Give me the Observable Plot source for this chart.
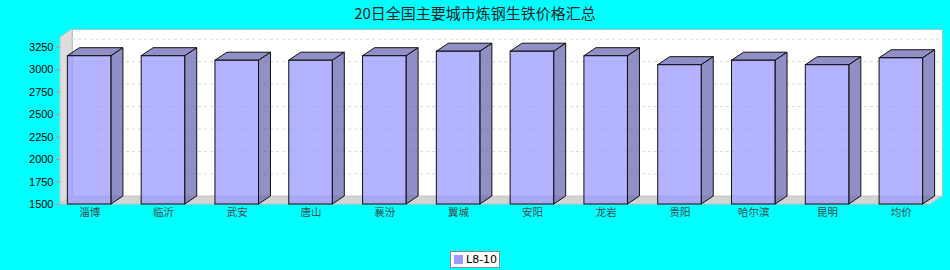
<!DOCTYPE html>
<html>
<head>
<meta charset="utf-8">
<script src="https://cdn.jsdelivr.net/npm/d3@7"></script>
<script src="https://cdn.jsdelivr.net/npm/@observablehq/plot@0.6"></script>
<style>
  body { margin: 0; background: #00FFFF; }
  #wrap { position: relative; width: 950px; height: 270px; overflow: hidden; background: #00FFFF; }
  #chart { position: absolute; left: 0; top: 0; }
  #title { position: absolute; left: 0; top: 5px; width: 950px; text-align: center;
           font: 15px "Noto Sans CJK SC", sans-serif; line-height: 15px; color: #222; }
  #legend { position: absolute; left: 450px; top: 251px; width: 48px; height: 15px;
            background: #fff; border: 1px solid #888; font: 11px "DejaVu Sans", sans-serif; color: #000; }
  #legend .sw { position: absolute; left: 3px; top: 3px; width: 9px; height: 9px; background: #9999FF; }
  #legend .lb { position: absolute; left: 15px; top: 1px; line-height: 13px; }
</style>
</head>
<body>
<div id="wrap">
  <div id="chart"></div>
  <div id="title"></div>
  <div id="legend"><div class="sw"></div><div class="lb"></div></div>
</div>
<script>
const title = "20日全国主要城市炼钢生铁价格汇总";
const seriesName = "L8-10";
const cities = ["淄博","临沂","武安","唐山","襄汾","翼城","安阳","龙岩","贵阳","哈尔滨","昆明","均价"];
const prices = [3150, 3150, 3100, 3100, 3150, 3200, 3200, 3150, 3050, 3100, 3050, 3127];
const yTicks = [1500, 1750, 2000, 2250, 2500, 2750, 3000, 3250];

const data = cities.map((c, i) => ({city: c, price: prices[i]}));
const DX = 12, DY = 8;
const YMIN = 1500;

document.getElementById("title").textContent = title;
document.querySelector("#legend .lb").textContent = seriesName;

function pts(a) { return a.map(p => p.join(",")).join(" "); }

// left wall and floor of the 3D plot box
function walls(index, scales, values, dim) {
  const x0 = dim.marginLeft, x1 = dim.width - dim.marginRight;
  const y0 = dim.marginTop, y1 = dim.height - dim.marginBottom;
  const g = d3.create("svg:g");
  g.append("polygon")
    .attr("points", pts([[x0, y0], [x0 + DX, y0 - DY], [x0 + DX, y1 - DY], [x0, y1]]))
    .attr("fill", "#dddddd").attr("stroke", "#c4c4c4");
  g.append("polygon")
    .attr("points", pts([[x0, y1], [x0 + DX, y1 - DY], [x1 + DX, y1 - DY], [x1, y1]]))
    .attr("fill", "#d3d3d3").attr("stroke", "#c4c4c4");
  return g.node();
}

// 3D bars drawn from data through Plot's scales
function bars3d(index, scales, values, dim) {
  const sx = scales.x, sy = scales.y;
  const bw = typeof sx.bandwidth === "function" ? sx.bandwidth() : 43;
  const g = d3.create("svg:g");
  const y0 = sy(YMIN);
  for (const d of data) {
    const xl = sx(d.city), xr = xl + bw, yt = sy(d.price);
    g.append("polygon")
      .attr("points", pts([[xr, yt], [xr + DX, yt - DY], [xr + DX, y0 - DY], [xr, y0]]))
      .attr("fill", "#6B6BB3").attr("fill-opacity", 0.75)
      .attr("stroke", "#111").attr("stroke-width", 1).attr("stroke-linejoin", "round");
    g.append("polygon")
      .attr("points", pts([[xl, yt], [xl + DX, yt - DY], [xr + DX, yt - DY], [xr, yt]]))
      .attr("fill", "#6B6BB3").attr("fill-opacity", 0.75)
      .attr("stroke", "#111").attr("stroke-width", 1).attr("stroke-linejoin", "round");
    g.append("rect")
      .attr("x", xl).attr("y", yt).attr("width", bw).attr("height", y0 - yt)
      .attr("fill", "#9999FF").attr("fill-opacity", 0.75)
      .attr("stroke", "#111").attr("stroke-width", 1);
  }
  return g.node();
}

const plot = Plot.plot({
  width: 950,
  height: 270,
  marginLeft: 60,
  marginRight: 20,
  marginTop: 37,
  marginBottom: 66,
  style: {background: "transparent", overflow: "visible"},
  x: {type: "band", domain: cities, paddingInner: 0.41, paddingOuter: 0.1, round: false, axis: null},
  y: {domain: [YMIN, 3358], axis: null},
  marks: [
    Plot.frame({fill: "white", stroke: "#a8c8c8", dx: DX, dy: -DY}),
    walls,
    Plot.gridY(yTicks.filter(t => t > YMIN), {stroke: "#d8d8d8", strokeOpacity: 1, strokeDasharray: "3,3", dx: DX, dy: -DY}),
    bars3d,
    Plot.axisY({ticks: yTicks, tickSize: 4, tickPadding: 3, stroke: "#d08888", fill: "#000",
                fontSize: 11, fontFamily: "Liberation Sans, sans-serif", tickFormat: d => String(d)}),
    Plot.axisX({tickSize: 0, tickPadding: 4, fontSize: 10.5, fill: "#3a4a4a",
                fontFamily: "Noto Sans CJK SC, sans-serif"})
  ]
});
document.getElementById("chart").appendChild(plot);
</script>
</body>
</html>
